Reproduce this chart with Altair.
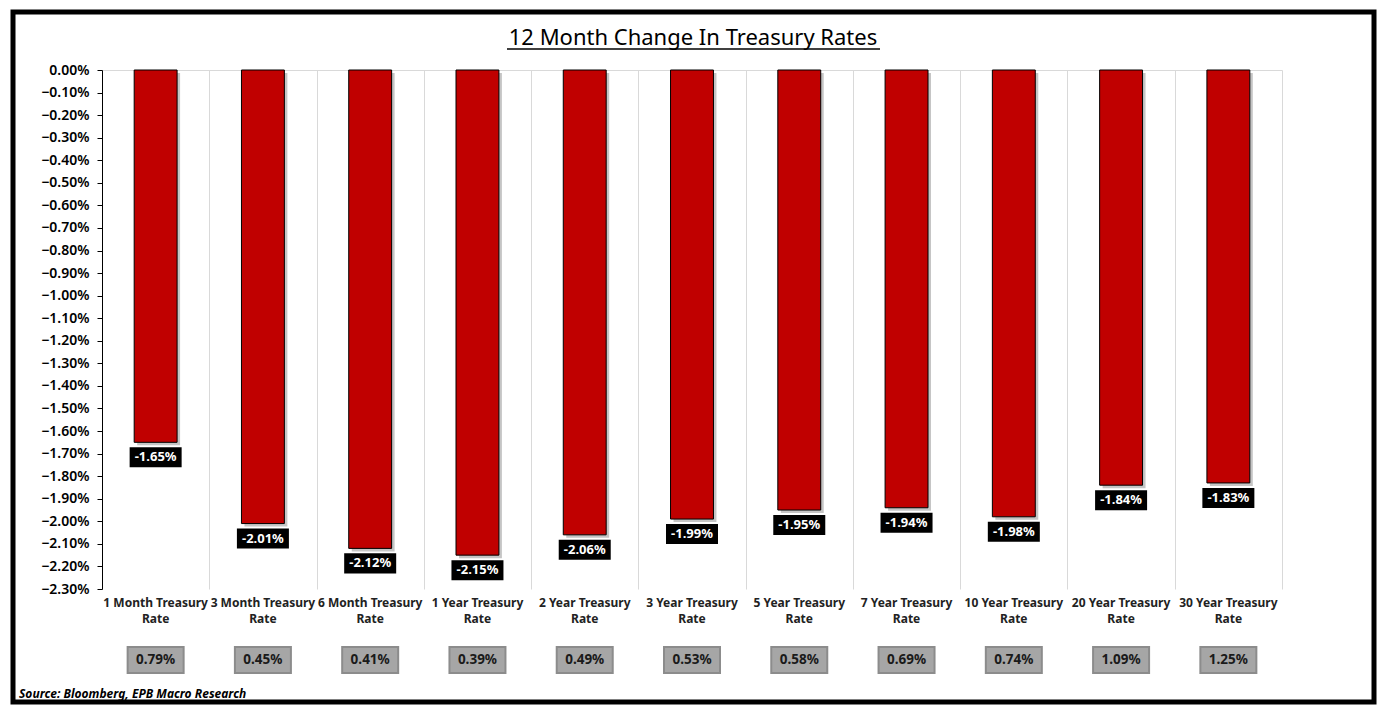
import altair as alt
import pandas as pd

categories = ["1 Month Treasury Rate", "3 Month Treasury Rate", "6 Month Treasury Rate",
              "1 Year Treasury Rate", "2 Year Treasury Rate", "3 Year Treasury Rate",
              "5 Year Treasury Rate", "7 Year Treasury Rate", "10 Year Treasury Rate",
              "20 Year Treasury Rate", "30 Year Treasury Rate"]
change_12m = [-1.65, -2.01, -2.12, -2.15, -2.06, -1.99, -1.95, -1.94, -1.98, -1.84, -1.83]
current_rate = [0.79, 0.45, 0.41, 0.39, 0.49, 0.53, 0.58, 0.69, 0.74, 1.09, 1.25]
y_ticks = [round(-0.1 * i, 2) for i in range(24)]

df = pd.DataFrame({"cat": categories, "chg": change_12m, "cur": current_rate})
df["chg_label"] = [f"-{abs(v):.2f}%" for v in change_12m]
df["cur_label"] = [f"{v:.2f}%" for v in current_rate]
df["cat_label"] = [c.replace(" Rate", "\nRate") for c in categories]

FONT = "Noto Sans"
W, H = 1180, 519

xscale = alt.Scale(domain=categories, paddingInner=0, paddingOuter=0)
x_axis = alt.Axis(orient="top", labels=False, ticks=False, title=None,
                  domainColor="#d9d9d9", grid=True, gridColor="#d9d9d9",
                  tickBand="extent")
yscale = alt.Scale(domain=[-2.3, 0], nice=False, zero=True)
y_axis = alt.Axis(values=y_ticks, title=None, grid=False,
                  labelExpr="format(datum.value, '.2f') + '%'",
                  domainColor="black", tickColor="black", tickSize=5,
                  labelFont=FONT, labelFontSize=14, labelFontWeight=600,
                  labelColor="black", labelPadding=8)


def X():
    return alt.X("cat:N", scale=xscale, sort=categories, axis=x_axis)


def Y():
    return alt.Y("chg:Q", scale=yscale, axis=y_axis)


base = alt.Chart(df)
bw = alt.RelativeBandSize(0.4)

shadow = base.mark_bar(color="#7f7f7f", opacity=0.45, xOffset=3, yOffset=3,
                       width=bw).encode(x=X(), y=Y())
bars = base.mark_bar(color="#C00000", stroke="black", strokeWidth=1,
                     width=bw).encode(x=X(), y=Y())

box_path = "M-1,-0.385H1V0.385H-1Z"
label_box = base.mark_point(shape=box_path, filled=True, color="black", size=52 * 52,
                            opacity=1, yOffset=15).encode(x=X(), y=Y())
label_txt = base.mark_text(color="white", font=FONT, fontSize=13, fontWeight="bold",
                           yOffset=15, baseline="middle").encode(
    x=X(), y=Y(), text="chg_label:N")

cat_txt = base.mark_text(font=FONT, fontSize=12, fontWeight="bold", color="#222222",
                         baseline="top", lineBreak="\n", lineHeight=16).encode(
    x=X(), y=alt.value(528), text="cat_label:N")

gray_path = "M-1,-0.46H1V0.46H-1Z"
gray_box = base.mark_point(shape=gray_path, filled=True, fill="#a6a6a6", stroke="#8c8c8c",
                           strokeWidth=2, size=56 * 56, opacity=1).encode(
    x=X(), y=alt.value(590))
gray_txt = base.mark_text(font=FONT, fontSize=13.5, fontWeight="bold", color="#1a1a1a",
                          baseline="middle").encode(
    x=X(), y=alt.value(590), text="cur_label:N")

deco = pd.DataFrame({"t": [0]})
dbase = alt.Chart(deco)
title = dbase.mark_text(text="12 Month Change In Treasury Rates", font=FONT, fontSize=22,
                        color="black", baseline="alphabetic", align="center").encode(
    x=alt.value(591), y=alt.value(-25))
underline = dbase.mark_rule(color="black", strokeWidth=1.5).encode(
    x=alt.value(405), x2=alt.value(778), y=alt.value(-21))
source = dbase.mark_text(text="Source: Bloomberg, EPB Macro Research", font=FONT,
                         fontSize=12, fontStyle="italic", fontWeight="bold", color="black",
                         align="left", baseline="middle").encode(
    x=alt.value(-83), y=alt.value(624))
border = dbase.mark_rect(fill=None, fillOpacity=0, stroke="black", strokeWidth=5).encode(
    x=alt.value(-89), x2=alt.value(1272), y=alt.value(-58), y2=alt.value(632))

chart = alt.layer(shadow, bars, label_box, label_txt, cat_txt, gray_box, gray_txt,
                  title, underline, source, border).properties(
    width=W, height=H,
    autosize=alt.AutoSizeParams(type="none"),
    padding={"left": 94, "top": 62, "right": 95, "bottom": 120},
    background="white",
).configure_view(stroke=None)

chart.save("out.html", embed_options={"renderer": "svg", "actions": False})
